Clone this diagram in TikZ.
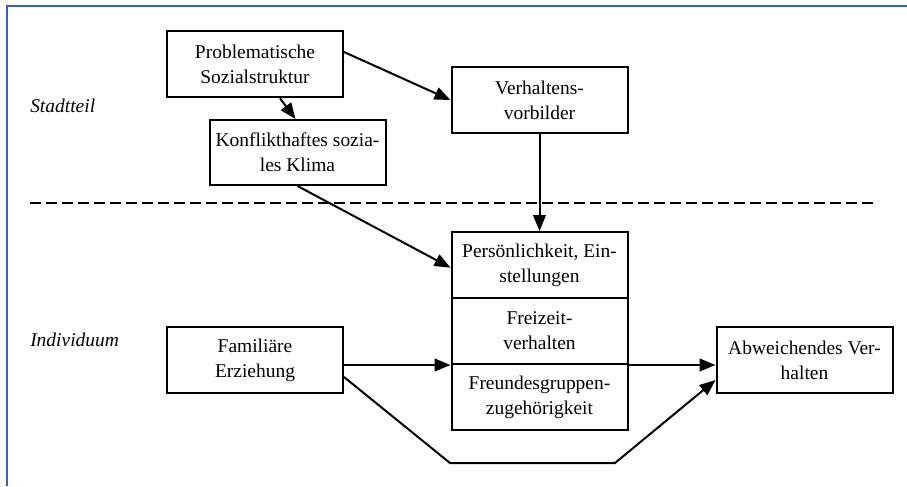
\documentclass[tikz,border=0pt]{standalone}
\usepackage{fontspec}
\setmainfont{Liberation Serif}
\usetikzlibrary{arrows.meta,calc}
\definecolor{frameblue}{HTML}{3462B8}
\tikzset{
  box/.style={draw, line width=1.5pt, rectangle, align=center, inner sep=0pt,
     minimum width=132pt, minimum height=50pt,
     font=\fontsize{14.6pt}{18.6pt}\selectfont},
  cell/.style={box, minimum height=49.5pt},
  conn/.style={line width=1.5pt, -{Triangle[length=12pt,width=9.5pt]}},
  side/.style={anchor=west, inner sep=0pt, font=\fontsize{14.6pt}{18pt}\selectfont\itshape},
}
\begin{document}
\begin{tikzpicture}[x=0.75pt,y=-0.75pt]
\useasboundingbox (0,0) rectangle (907,486);
\draw[frameblue, line width=2pt] (7,486) -- (7,6) -- (907,6);

\node[side] (stadt) at (30,106) {Stadtteil};
\node[side] (indiv) at (30,340) {Individuum};

\node[box] (prob) at (255,64) {Problematische\\Sozialstruktur};
\node[box, minimum height=48.75pt] (konf) at (297.5,152.5) {Konflikthaftes sozia-\\les Klima};
\node[box] (verh) at (539.5,100) {Verhaltens-\\vorbilder};
\node[cell] (pers) at (539.5,265) {Persönlichkeit, Ein-\\stellungen};
\node[cell] (frei) at (539.5,331) {Freizeit-\\verhalten};
\node[cell] (freu) at (539.5,397) {Freundesgruppen-\\zugehörigkeit};
\node[box, minimum height=49.5pt] (fam) at (255,360) {Familiäre\\Erziehung};
\node[box, minimum height=49.5pt] (abw) at (804.5,360) {Abweichendes Ver-\\halten};

\draw[line width=2pt, dash pattern=on 8.5pt off 3.5pt] (30,203) coordinate (dl) -- (875,203) coordinate (dr);

\draw[conn] ([yshift=9pt]prob.east) -- (verh.west);
\draw[conn] ([xshift=18.75pt]prob.south) -- ([xshift=-1.5pt]konf.north);
\draw[conn] (konf.south) -- ([yshift=-2pt]pers.west);
\draw[conn] (verh.south) -- (pers.north);
\draw[conn] (fam.east |- frei.south) -- (frei.south west);
\draw[conn] (frei.south east) -- (abw.west |- frei.south);
\coordinate (b1) at (450,463);
\coordinate (b2) at (615,463);
\draw[conn] ([yshift=-12.75pt]fam.east) -- (b1) -- (b2) -- ([yshift=-15pt]abw.west);
\end{tikzpicture}
\end{document}
